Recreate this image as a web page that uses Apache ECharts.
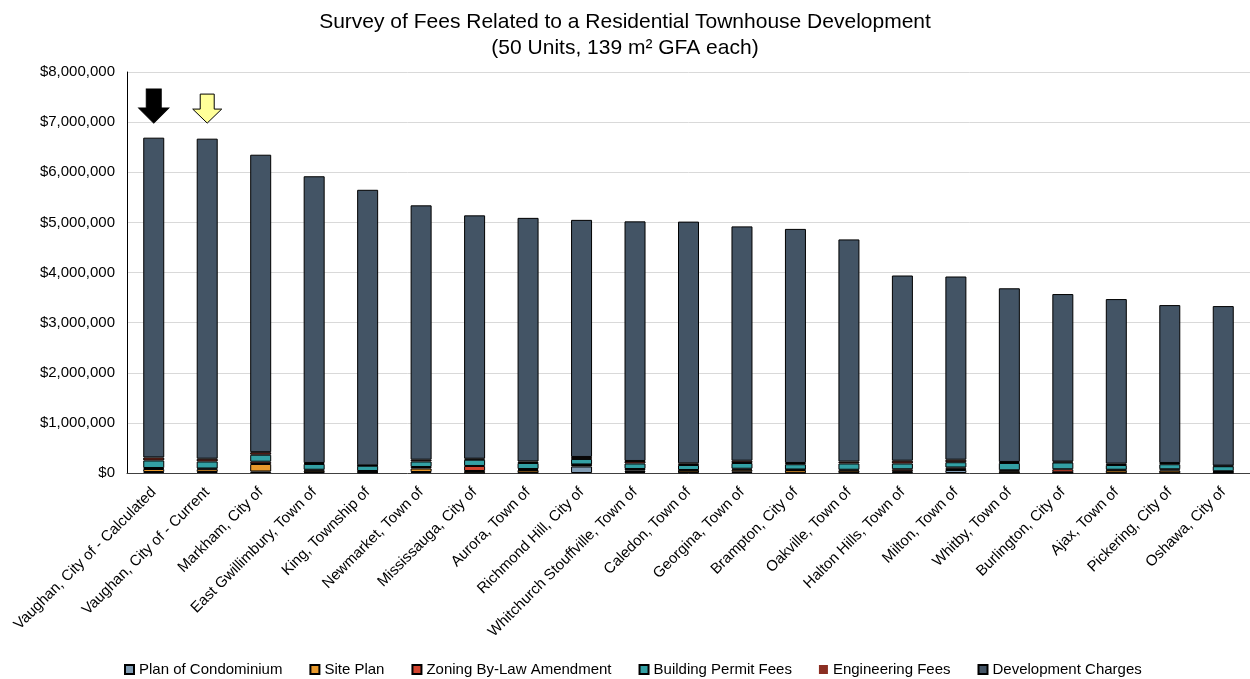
<!DOCTYPE html>
<html>
<head>
<meta charset="utf-8">
<title>Survey of Fees</title>
<script src="https://cdn.jsdelivr.net/npm/echarts@6/dist/echarts.min.js"></script>
<style>
html,body{margin:0;padding:0;background:#fff;}
#main{width:1250px;height:679px;}
</style>
</head>
<body>
<div id="main"></div>
<script>
var municipalities = ['Vaughan, City of - Calculated','Vaughan, City of - Current','Markham, City of','East Gwillimbury, Town of','King, Township of','Newmarket, Town of','Mississauga, City of','Aurora, Town of','Richmond Hill, City of','Whitchurch Stouffville, Town of','Caledon, Town of','Georgina, Town of','Brampton, City of','Oakville, Town of','Halton Hills, Town of','Milton, Town of','Whitby, Town of','Burlington, City of','Ajax, Town of','Pickering, City of','Oshawa, City of'];

var planOfCondo   = [20000,20000,30000,15000,10000,20000,5000,10000,130000,20000,10000,25000,5000,10000,15000,60000,5000,5000,5000,5000,5000];
var sitePlan      = [60000,55000,150000,35000,20000,70000,35000,50000,30000,30000,40000,40000,55000,40000,20000,25000,30000,10000,50000,45000,20000];
var zoningByLaw   = [20000,15000,45000,15000,10000,30000,100000,20000,10000,30000,10000,20000,10000,15000,40000,25000,20000,60000,10000,25000,10000];
var buildingPermit= [150000,140000,140000,115000,105000,110000,125000,120000,110000,110000,100000,115000,105000,125000,115000,105000,145000,135000,95000,100000,100000];
var engineering   = [60000,55000,50000,20000,8000,35000,20000,30000,40000,50000,33000,45000,25000,37000,55000,50000,20000,17000,27000,25000,12000];
var devCharges    = [6380000,6385000,5935000,5720000,5497000,5075000,4855000,4860000,4730000,4780000,4822000,4675000,4670000,4433000,3695000,3655000,3465000,3343000,3283000,3150000,3183000];

var seriesNames = ['Plan of Condominium','Site Plan','Zoning By-Law Amendment','Building Permit Fees','Engineering Fees','Development Charges'];
var seriesColors = ['#7f9bb3','#e8992c','#d2442f','#33a0a4','#8b2e22','#435465'];

var fontName = '"Liberation Sans", Arial, sans-serif';
var myChart = echarts.init(document.getElementById('main'));

function money(v){
	return '$' + String(v).replace(/\B(?=(\d{3})+(?!\d))/g, ',');
}

var allData = [planOfCondo, sitePlan, zoningByLaw, buildingPermit, engineering, devCharges];
var series = [];
for (var i = 0; i < allData.length; i++) {
	series.push({
		name: seriesNames[i],
		type: 'bar',
		stack: 'fees',
		barWidth: 21,
		data: allData[i],
		itemStyle: {
			color: seriesColors[i],
			borderColor: '#000',
			borderWidth: 1
		}
	});
}

// arrows over the two Vaughan bars
series[5].markPoint = {
	label: {show: false},
	silent: true,
	data: [
		{
			coord: [0, 7320000],
			symbol: 'path://M7.5,0 L22.5,0 L22.5,19 L30,19 L15,34 L0,19 L7.5,19 Z',
			symbolSize: [30, 34],
			itemStyle: {color: '#000', borderColor: '#000', borderWidth: 1}
		},
		{
			coord: [1, 7270000],
			symbol: 'path://M7.5,0 L21.5,0 L21.5,15 L29,15 L14.5,29 L0,15 L7.5,15 Z',
			symbolSize: [29, 29],
			itemStyle: {color: '#ffff99', borderColor: '#000', borderWidth: 1}
		}
	]
};

var legendData = [];
for (var j = 0; j < seriesNames.length; j++) {
	var item = {name: seriesNames[j]};
	if (seriesNames[j] == 'Engineering Fees') {
		item.itemStyle = {borderWidth: 0};
	}
	legendData.push(item);
}

var option = {
	backgroundColor: '#fff',
	animation: false,
	textStyle: {fontFamily: fontName},
	title: {
		text: 'Survey of Fees Related to a Residential Townhouse Development\n(50 Units, 139 m² GFA each)',
		left: 'center',
		top: 4,
		textStyle: {
			fontFamily: fontName,
			fontSize: 21,
			fontWeight: 'normal',
			color: '#000',
			lineHeight: 26
		}
	},
	legend: {
		data: legendData,
		top: 657,
		left: 119,
		icon: 'rect',
		itemWidth: 9,
		itemHeight: 9,
		itemGap: 27,
		textStyle: {fontFamily: fontName, fontSize: 15, color: '#000'}
	},
	grid: {
		left: 127,
		top: 72,
		width: 1128,
		bottom: 206
	},
	xAxis: {
		type: 'category',
		data: municipalities,
		axisLine: {lineStyle: {color: '#404040', width: 1}},
		axisTick: {show: false},
		axisLabel: {
			interval: 0,
			rotate: 45,
			margin: 17,
			fontFamily: fontName,
			fontSize: 15,
			color: '#000'
		}
	},
	yAxis: {
		type: 'value',
		min: 0,
		max: 8000000,
		interval: 1000000,
		axisLine: {show: true, lineStyle: {color: '#000', width: 1}},
		axisTick: {show: false},
		splitLine: {lineStyle: {color: '#d9d9d9', width: 1}},
		axisLabel: {
			formatter: money,
			margin: 12,
			fontFamily: fontName,
			fontSize: 15,
			color: '#000'
		}
	},
	series: series
};

myChart.setOption(option);
</script>
</body>
</html>
